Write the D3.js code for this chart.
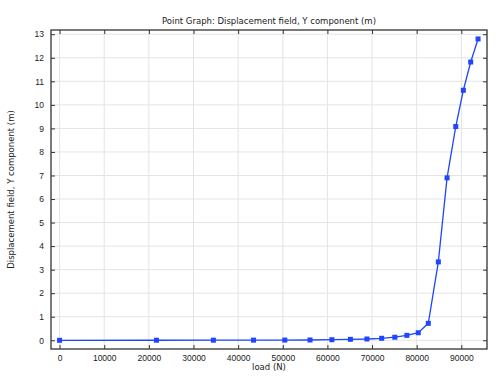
<!DOCTYPE html>
<html>
<head>
<meta charset="utf-8">
<script src="https://cdn.jsdelivr.net/npm/d3@7"></script>
<style>
  body { margin: 0; background: #fff; }
  svg { display: block; font-family: "DejaVu Sans", sans-serif; }
</style>
</head>
<body>
<div id="chart"></div>
<script>
var canvasWidth = 498;
var canvasHeight = 378;

/* data */
var loads = [0, 21700, 34450, 43450, 50450, 56100, 61000, 65150, 68850, 72150,
             75100, 77800, 80350, 82600, 84850, 86800, 88750, 90450, 92100, 93750];
var dispY = [0, 0.002, 0.004, 0.006, 0.009, 0.013, 0.025, 0.04, 0.055, 0.085,
             0.13, 0.21, 0.32, 0.72, 3.33, 6.9, 9.08, 10.62, 11.82, 12.8];
var xTicks = [0, 10000, 20000, 30000, 40000, 50000, 60000, 70000, 80000, 90000];
var yTicks = [0, 1, 2, 3, 4, 5, 6, 7, 8, 9, 10, 11, 12, 13];

var data = loads.map(function(d, i) { return {load: d, y: dispY[i]}; });

var pLeft = 51, pRight = 487, pTop = 30, pBottom = 349;
var fontSize = "8.5px";

var svg = d3.select("#chart")
    .append("svg")
    .attr("width", canvasWidth)
    .attr("height", canvasHeight);

var xScale = d3.scaleLinear().domain([-1925, 95750]).range([pLeft, pRight]);
var yScale = d3.scaleLinear().domain([-0.37, 13.18]).range([pBottom, pTop]);

/* grid */
svg.append("g").selectAll("line")
    .data(xTicks).enter().append("line")
    .attr("x1", d => xScale(d)).attr("x2", d => xScale(d))
    .attr("y1", pTop).attr("y2", pBottom)
    .attr("stroke", "#e4e4e4").attr("stroke-width", 1);
svg.append("g").selectAll("line")
    .data(yTicks).enter().append("line")
    .attr("x1", pLeft).attr("x2", pRight)
    .attr("y1", d => yScale(d)).attr("y2", d => yScale(d))
    .attr("stroke", "#e4e4e4").attr("stroke-width", 1);

/* axes, ticks pointing inward on all four sides */
function styleAxis(g) {
    g.select(".domain").remove();
    g.selectAll(".tick line").attr("stroke", "#333");
    g.selectAll(".tick text").attr("fill", "#222").style("font-size", fontSize);
}
svg.append("g")
    .attr("transform", "translate(0," + pBottom + ")")
    .call(d3.axisBottom(xScale).tickValues(xTicks).tickFormat(d3.format("d"))
        .tickSizeInner(-4).tickPadding(6))
    .call(styleAxis);
svg.append("g")
    .attr("transform", "translate(0," + pTop + ")")
    .call(d3.axisTop(xScale).tickValues(xTicks).tickFormat("").tickSizeInner(-4))
    .call(styleAxis);
svg.append("g")
    .attr("transform", "translate(" + pLeft + ",0)")
    .call(d3.axisLeft(yScale).tickValues(yTicks).tickFormat(d3.format("d"))
        .tickSizeInner(-4).tickPadding(7))
    .call(styleAxis);
svg.append("g")
    .attr("transform", "translate(" + pRight + ",0)")
    .call(d3.axisRight(yScale).tickValues(yTicks).tickFormat("").tickSizeInner(-4))
    .call(styleAxis);

/* frame */
svg.append("rect")
    .attr("x", pLeft).attr("y", pTop)
    .attr("width", pRight - pLeft).attr("height", pBottom - pTop)
    .attr("fill", "none").attr("stroke", "#333").attr("stroke-width", 1.3);

/* line + markers */
svg.append("path")
    .datum(data)
    .attr("fill", "none")
    .attr("stroke", "#1f45ff")
    .attr("stroke-width", 1.3)
    .attr("d", d3.line().x(d => xScale(d.load)).y(d => yScale(d.y)));

svg.append("g").selectAll("rect")
    .data(data).enter().append("rect")
    .attr("x", d => xScale(d.load) - 2.5)
    .attr("y", d => yScale(d.y) - 2.5)
    .attr("width", 5).attr("height", 5)
    .attr("fill", "#1f45ff");

/* texts */
svg.append("text")
    .attr("x", (pLeft + pRight) / 2).attr("y", 24)
    .attr("text-anchor", "middle")
    .style("font-size", fontSize).attr("fill", "#222")
    .text("Point Graph: Displacement field, Y component (m)");
svg.append("text")
    .attr("x", (pLeft + pRight) / 2).attr("y", 370)
    .attr("text-anchor", "middle")
    .style("font-size", fontSize).attr("fill", "#222")
    .text("load (N)");
svg.append("text")
    .attr("transform", "translate(14," + (pTop + pBottom) / 2 + ") rotate(-90)")
    .attr("text-anchor", "middle")
    .style("font-size", fontSize).attr("fill", "#222")
    .text("Displacement field, Y component (m)");
</script>
</body>
</html>
